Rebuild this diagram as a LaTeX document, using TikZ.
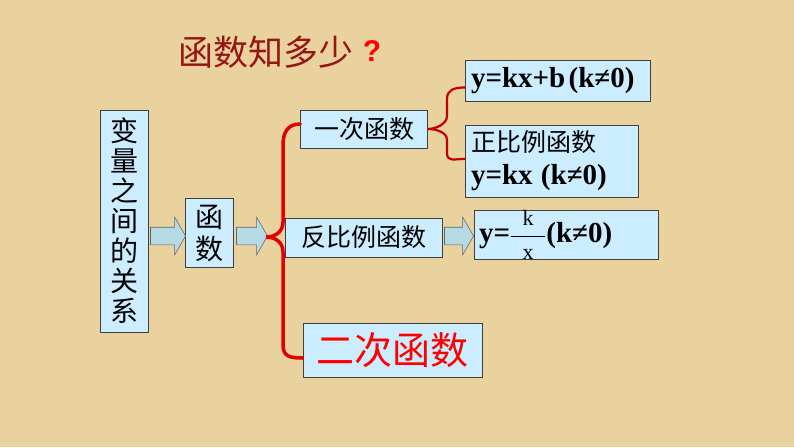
\documentclass[tikz,border=0pt]{standalone}
\usepackage{fontspec}
\usepackage{amsmath}
\setmainfont{Liberation Serif}
\newfontfamily\cjk{Noto Sans CJK SC}
\newfontfamily\qsans{Liberation Sans}
\usetikzlibrary{shapes.arrows}
\definecolor{paper}{RGB}{234,210,158}
\definecolor{boxblue}{RGB}{204,236,255}
\definecolor{arrowblue}{RGB}{182,218,228}
\definecolor{bracered}{RGB}{228,0,0}
\definecolor{titlered}{RGB}{150,22,22}

\begin{document}
\begin{tikzpicture}[x=1pt,y=-1pt,
  box/.style={shape=rectangle,draw=black!75,fill=boxblue,line width=0.6pt,inner sep=0pt},
  blockarr/.style={shape=single arrow,draw=black!60,fill=arrowblue,line width=0.6pt,
    inner xsep=0pt,inner ysep=8.5pt,single arrow head extend=10pt,single arrow tip angle=120},
  bigbrace/.style={draw=bracered,line width=3.5pt,line cap=round},
  smallbrace/.style={draw=bracered!85!black,line width=2.2pt,line cap=round}]
\useasboundingbox (0,0) rectangle (794,447);
\fill[paper] (0,0) rectangle (794,447);

% title
\path (266,52) node (title) {\cjk\fontsize{35}{35}\selectfont\color{titlered}函数知多少};
\path (372,51) node (qm) {\qsans\bfseries\fontsize{30}{30}\selectfont\color{red}?};

% left part
\path (124,221) node (rel) [box,minimum width=48pt,minimum height=222pt,align=center,
  font={\cjk\fontsize{28}{30}\selectfont}] {变\\量\\之\\间\\的\\关\\系};
\path (209,233) node (fn) [box,minimum width=48pt,minimum height=69pt,align=center,
  font={\cjk\fontsize{28}{32}\selectfont}] {函\\数};
\path (165.5,236) node (ar1) [blockarr,minimum height=35pt] {};
\path (249.5,236) node (ar2) [blockarr,minimum height=31pt] {};
\coordinate (tip) at (266,237);

% branches
\path (364,129) node (fir) [box,minimum width=127pt,minimum height=38pt]
  {\cjk\fontsize{25}{25}\selectfont 一次函数};
\path (363.5,237.5) node (inv) [box,minimum width=157pt,minimum height=39pt]
  {\cjk\fontsize{25}{25}\selectfont 反比例函数};
\path (392.5,350) node (sec) [box,minimum width=179pt,minimum height=54pt]
  {\cjk\fontsize{38}{38}\selectfont\color{red}二次函数};

% right part
\path (557.5,80.5) node (lin) [box,minimum width=185pt,minimum height=41pt,text width=173pt,align=left]
  {\bfseries\fontsize{29}{29}\selectfont y=kx+b (k≠0)};
\path (551.5,161) node (prop) [box,minimum width=173pt,minimum height=72pt,text width=161pt,align=left,
  font={\cjk\fontsize{25}{30}\selectfont}]
  {正比例函数\\[3pt]
   \rmfamily\bfseries\fontsize{29}{29}\selectfont y=kx (k≠0)};
\path (456.5,236) node (ar3) [blockarr,minimum height=29pt] {};
\path (566,235) node (frac) [box,minimum width=184pt,minimum height=42pt,text width=174pt,align=left]
  {\bfseries\fontsize{29}{29}\selectfont y=\raisebox{0pt}{$\dfrac{\textnormal{\fontsize{22}{22}\selectfont k}}%
   {\makebox[34pt]{\textnormal{\fontsize{22}{22}\selectfont x}}}$}(k≠0)};

% braces
\draw [bigbrace] ([yshift=5pt]fir.west) .. controls +(-13,0) and +(0,-12) .. (283,145)
  -- (283,222) .. controls +(0,10) and +(9,0) .. (tip)
  .. controls +(9,0) and +(0,-10) .. (283,252)
  -- (283,345) .. controls +(0,12) and +(-12,0) .. ([yshift=-8pt]sec.west);
\draw [smallbrace] ([yshift=-7pt]lin.west) .. controls +(-11,0) and +(0,-9) .. (447,99)
  -- (447,116) .. controls +(0,8) and +(8,0) .. (fir.east)
  .. controls +(8,0) and +(0,-8) .. (447,140)
  -- (447,153) .. controls +(0,9) and +(-11,0) .. ([yshift=2pt]prop.west);
\end{tikzpicture}
\end{document}
